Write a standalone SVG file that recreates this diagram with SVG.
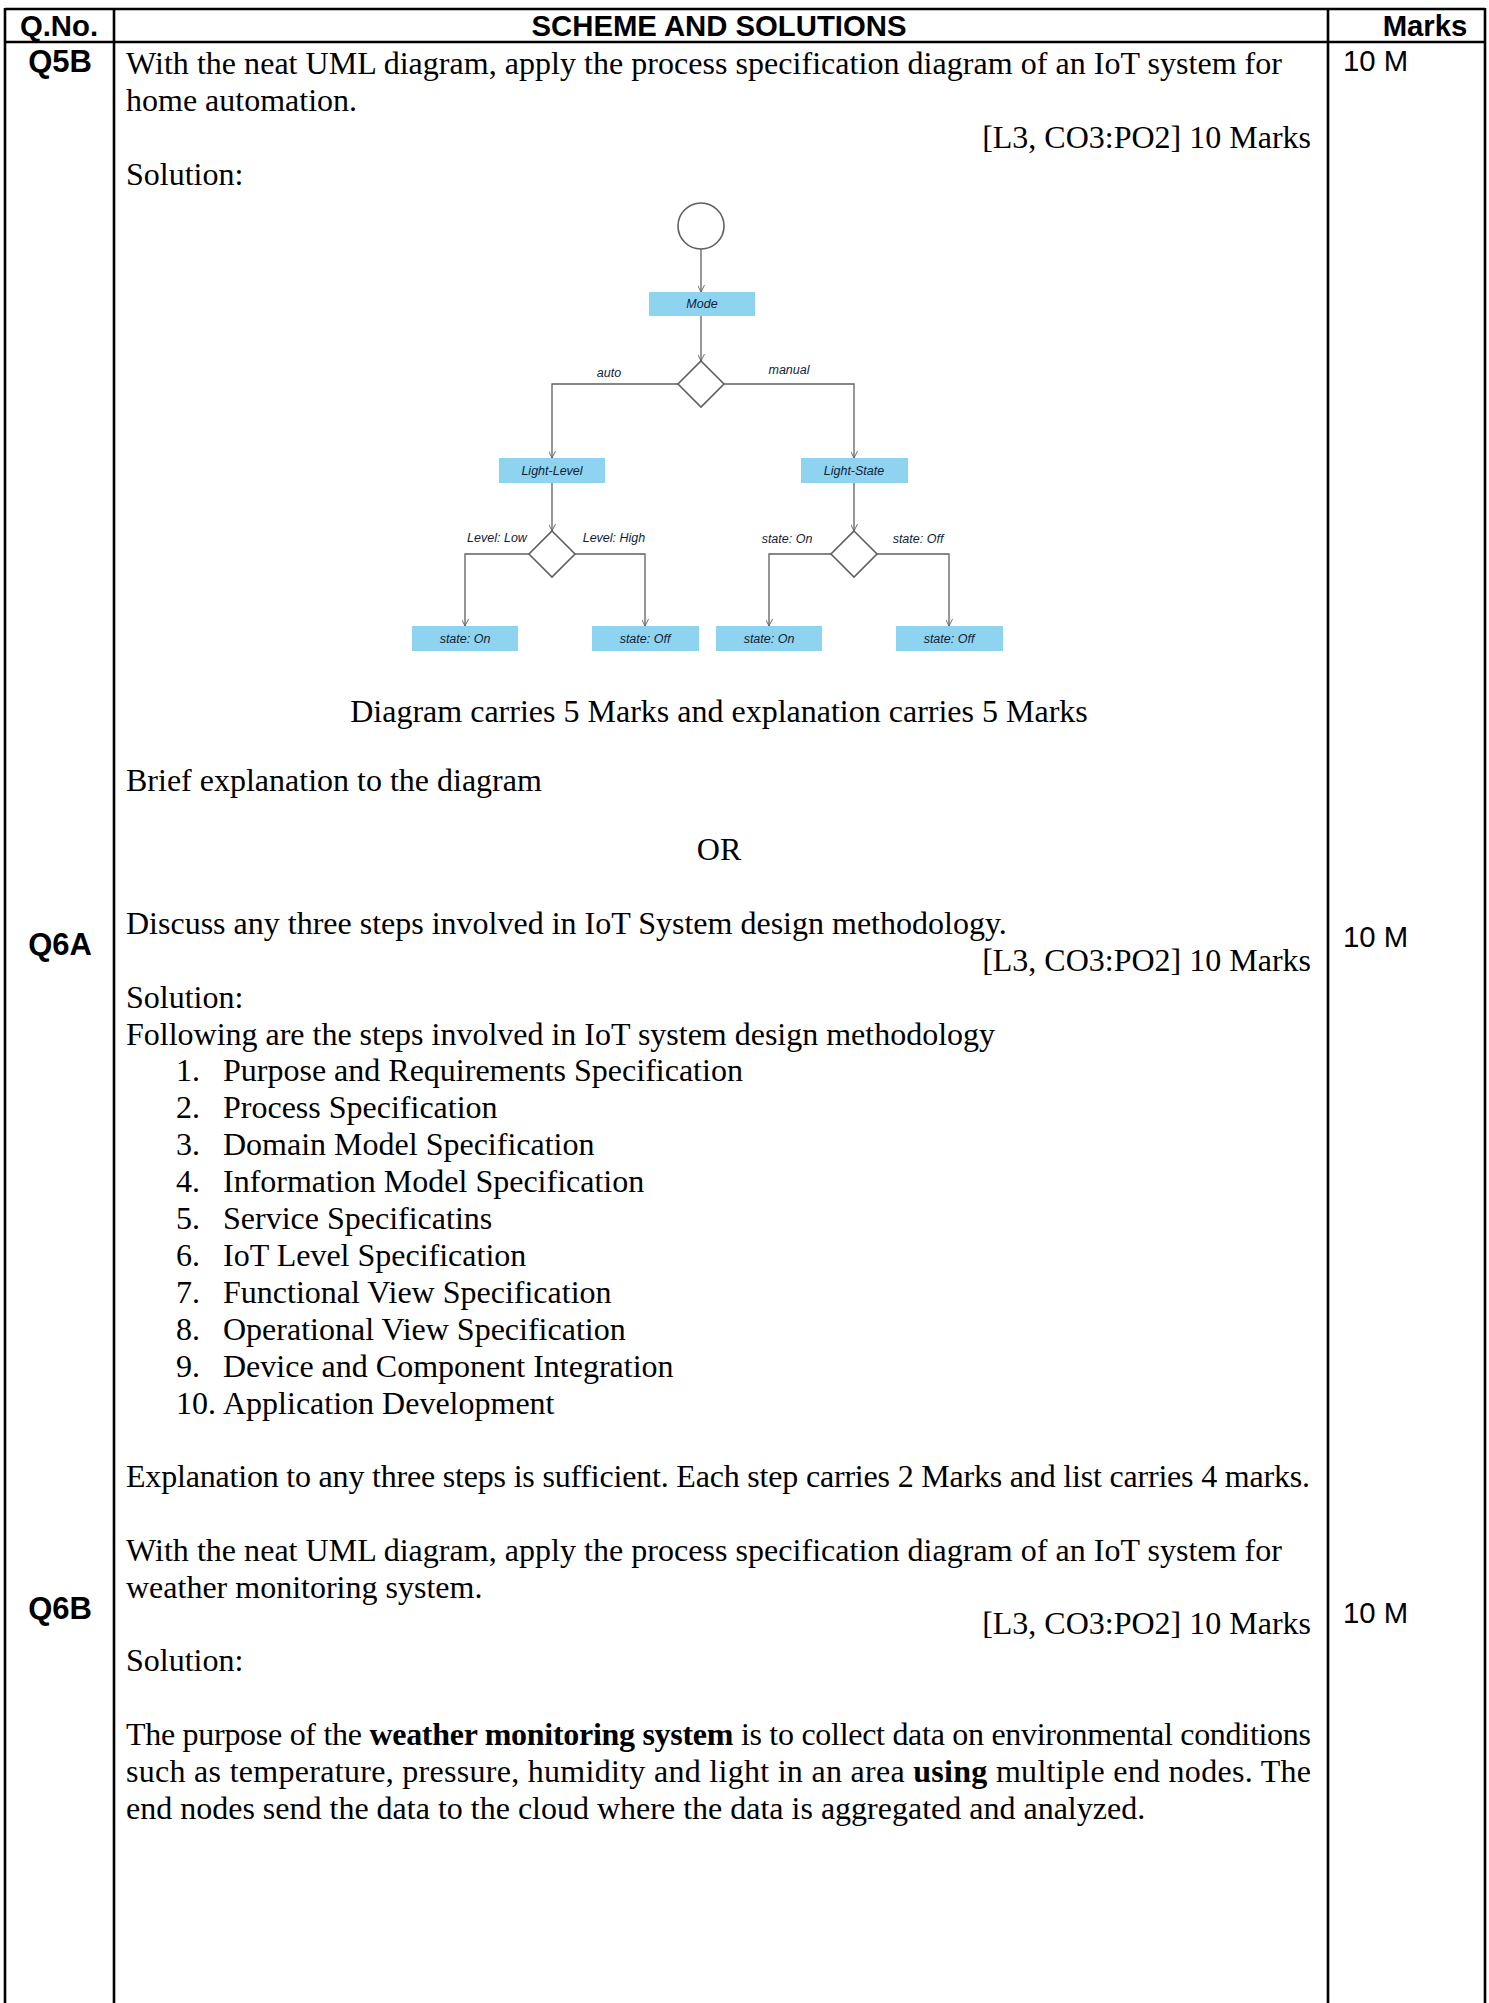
<svg xmlns="http://www.w3.org/2000/svg" width="1489" height="2003" viewBox="0 0 1489 2003">
<style>
.grid{stroke:#000;stroke-width:2.6;fill:none}
.hd{font-family:"Liberation Sans",Arial,sans-serif;font-weight:bold;font-size:29.3px;fill:#000}
.q{font-family:"Liberation Sans",Arial,sans-serif;font-weight:bold;font-size:31px;fill:#000;text-anchor:middle}
.mk{font-family:"Liberation Sans",Arial,sans-serif;font-size:29.3px;fill:#000}
.b{font-family:"Liberation Serif","Times New Roman",serif;font-size:32px;fill:#000}
.r{text-anchor:end}
.c{text-anchor:middle}
.box{fill:#8ed3f0}
.dl{font-family:"Liberation Sans",Arial,sans-serif;font-style:italic;font-size:12.5px;fill:#0f1d38}
.bl{text-anchor:middle}
.ln{stroke:#5f5f5f;stroke-width:1.3;fill:none}
.shape{stroke:#5f5f5f;stroke-width:1.6;fill:#fff}
</style>
<defs>
<marker id="arr" viewBox="0 0 10 10" refX="10" refY="5" markerWidth="7" markerHeight="7" markerUnits="userSpaceOnUse" orient="auto">
<path d="M0,0 L10,5 L0,10" fill="none" stroke="#5f5f5f" stroke-width="1.3"/>
</marker>
</defs>
<rect width="1489" height="2003" fill="#fff"/>

<g id="table">
<line class="grid" x1="5" y1="9" x2="1485" y2="9"/>
<line class="grid" x1="5" y1="42" x2="1485" y2="42"/>
<line class="grid" x1="5" y1="8" x2="5" y2="2003"/>
<line class="grid" x1="114" y1="8" x2="114" y2="2003"/>
<line class="grid" x1="1328" y1="8" x2="1328" y2="2003"/>
<line class="grid" x1="1485" y1="8" x2="1485" y2="2003"/>
<text class="hd" x="59" y="36" text-anchor="middle">Q.No.</text>
<text class="hd" x="719" y="36" text-anchor="middle">SCHEME AND SOLUTIONS</text>
<text class="hd" x="1425" y="36" text-anchor="middle">Marks</text>
</g>

<g id="q5b">
<text class="q" x="60" y="72">Q5B</text>
<text class="mk" x="1343" y="71">10 M</text>
<text class="b" x="126" y="74" textLength="1156" lengthAdjust="spacing">With the neat UML diagram, apply the process specification diagram of an IoT system for</text>
<text class="b" x="126" y="111">home automation.</text>
<text class="b r" x="1311" y="148">[L3, CO3:PO2] 10 Marks</text>
<text class="b" x="126" y="185">Solution:</text>
<text class="b c" x="719" y="722">Diagram carries 5 Marks and explanation carries 5 Marks</text>
<text class="b" x="126" y="791">Brief explanation to the diagram</text>
<text class="b c" x="719" y="860">OR</text>
</g>

<g id="connectors">
<path class="ln" d="M701,249 V292" marker-end="url(#arr)"/>
<path class="ln" d="M701,315 V361" marker-end="url(#arr)"/>
<path class="ln" d="M678,384 H552 V458" marker-end="url(#arr)"/>
<path class="ln" d="M724,384 H854 V458" marker-end="url(#arr)"/>
<path class="ln" d="M552,483 V531" marker-end="url(#arr)"/>
<path class="ln" d="M854,483 V531" marker-end="url(#arr)"/>
<path class="ln" d="M529,554 H465 V626" marker-end="url(#arr)"/>
<path class="ln" d="M575,554 H645 V626" marker-end="url(#arr)"/>
<path class="ln" d="M831,554 H769 V626" marker-end="url(#arr)"/>
<path class="ln" d="M877,554 H949 V626" marker-end="url(#arr)"/>
<text class="dl bl" x="609" y="377">auto</text>
<text class="dl bl" x="789" y="374">manual</text>
<text class="dl bl" x="497" y="542">Level: Low</text>
<text class="dl bl" x="614" y="542">Level: High</text>
<text class="dl bl" x="787" y="543">state: On</text>
<text class="dl bl" x="918" y="543">state: Off</text>
</g>

<g id="start"><circle class="shape" cx="701" cy="226" r="23"/></g>
<g id="mode"><rect class="box" x="649" y="292" width="106" height="24"/><text class="dl bl" x="702" y="308">Mode</text></g>
<g id="decision1"><polygon class="shape" points="701,361 724,384 701,407 678,384"/></g>
<g id="light-level"><rect class="box" x="499" y="458" width="106" height="25"/><text class="dl bl" x="552" y="475">Light-Level</text></g>
<g id="light-state"><rect class="box" x="801" y="458" width="107" height="25"/><text class="dl bl" x="854" y="475">Light-State</text></g>
<g id="decision2"><polygon class="shape" points="552,531 575,554 552,577 529,554"/></g>
<g id="decision3"><polygon class="shape" points="854,531 877,554 854,577 831,554"/></g>
<g id="ll-on"><rect class="box" x="412" y="626" width="106" height="25"/><text class="dl bl" x="465" y="643">state: On</text></g>
<g id="ll-off"><rect class="box" x="592" y="626" width="107" height="25"/><text class="dl bl" x="645" y="643">state: Off</text></g>
<g id="ls-on"><rect class="box" x="716" y="626" width="106" height="25"/><text class="dl bl" x="769" y="643">state: On</text></g>
<g id="ls-off"><rect class="box" x="896" y="626" width="107" height="25"/><text class="dl bl" x="949" y="643">state: Off</text></g>

<g id="q6a">
<text class="q" x="60" y="955">Q6A</text>
<text class="mk" x="1343" y="947">10 M</text>
<text class="b" x="126" y="934">Discuss any three steps involved in IoT System design methodology.</text>
<text class="b r" x="1311" y="971">[L3, CO3:PO2] 10 Marks</text>
<text class="b" x="126" y="1008">Solution:</text>
<text class="b" x="126" y="1045" textLength="869" lengthAdjust="spacing">Following are the steps involved in IoT system design methodology</text>
<text class="b" x="176" y="1081">1.</text><text class="b" x="223" y="1081">Purpose and Requirements Specification</text>
<text class="b" x="176" y="1118">2.</text><text class="b" x="223" y="1118">Process Specification</text>
<text class="b" x="176" y="1155">3.</text><text class="b" x="223" y="1155">Domain Model Specification</text>
<text class="b" x="176" y="1192">4.</text><text class="b" x="223" y="1192">Information Model Specification</text>
<text class="b" x="176" y="1229">5.</text><text class="b" x="223" y="1229">Service Specificatins</text>
<text class="b" x="176" y="1266">6.</text><text class="b" x="223" y="1266">IoT Level Specification</text>
<text class="b" x="176" y="1303">7.</text><text class="b" x="223" y="1303">Functional View Specification</text>
<text class="b" x="176" y="1340">8.</text><text class="b" x="223" y="1340">Operational View Specification</text>
<text class="b" x="176" y="1377">9.</text><text class="b" x="223" y="1377">Device and Component Integration</text>
<text class="b" x="176" y="1414">10.</text><text class="b" x="223" y="1414">Application Development</text>
<text class="b" x="126" y="1487" textLength="1184" lengthAdjust="spacing">Explanation to any three steps is sufficient. Each step carries 2 Marks and list carries 4 marks.</text>
</g>

<g id="q6b">
<text class="q" x="60" y="1619">Q6B</text>
<text class="mk" x="1343" y="1623">10 M</text>
<text class="b" x="126" y="1561" textLength="1156" lengthAdjust="spacing">With the neat UML diagram, apply the process specification diagram of an IoT system for</text>
<text class="b" x="126" y="1598">weather monitoring system.</text>
<text class="b r" x="1311" y="1634">[L3, CO3:PO2] 10 Marks</text>
<text class="b" x="126" y="1671">Solution:</text>
<text class="b" x="126" y="1745" textLength="1185" lengthAdjust="spacing">The purpose of the <tspan font-weight="bold">weather monitoring system</tspan> is to collect data on environmental conditions</text>
<text class="b" x="126" y="1782" textLength="1185" lengthAdjust="spacing">such as temperature, pressure, humidity and light in an area <tspan font-weight="bold">using</tspan> multiple end nodes. The</text>
<text class="b" x="126" y="1819">end nodes send the data to the cloud where the data is aggregated and analyzed.</text>
</g>
</svg>
